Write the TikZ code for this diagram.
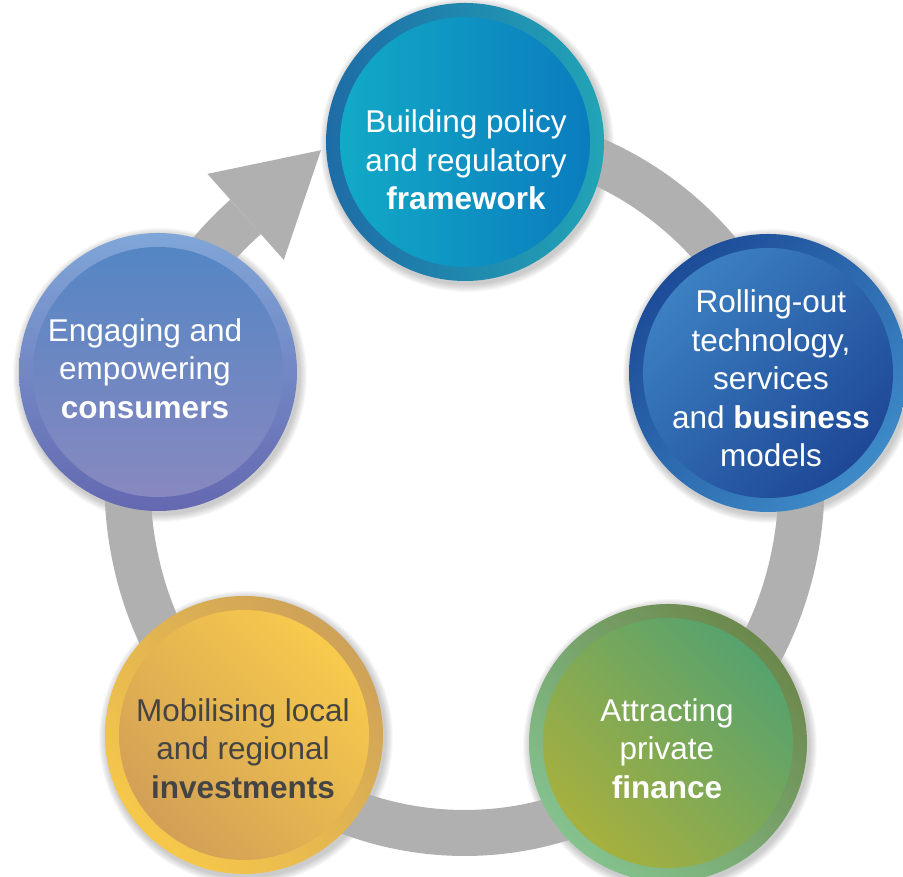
\documentclass[tikz,border=0pt]{standalone}
\usepackage{fontspec}
\setmainfont{Liberation Sans}
\usetikzlibrary{calc}
\definecolor{ringgray}{RGB}{176,176,176}
\definecolor{tA}{RGB}{30,108,166}
\definecolor{tB}{RGB}{34,164,182}
\definecolor{tC}{RGB}{18,170,198}
\definecolor{tD}{RGB}{10,124,190}
\definecolor{rA}{RGB}{29,76,152}
\definecolor{rB}{RGB}{62,138,199}
\definecolor{rC}{RGB}{60,128,194}
\definecolor{rD}{RGB}{30,72,150}
\definecolor{gA}{RGB}{108,136,76}
\definecolor{gB}{RGB}{132,194,142}
\definecolor{gC}{RGB}{86,162,110}
\definecolor{gD}{RGB}{166,176,62}
\definecolor{yA}{RGB}{206,162,88}
\definecolor{yB}{RGB}{246,200,74}
\definecolor{yC}{RGB}{248,202,76}
\definecolor{yD}{RGB}{210,160,86}
\definecolor{lA}{RGB}{128,166,216}
\definecolor{lB}{RGB}{100,104,176}
\definecolor{lC}{RGB}{84,134,196}
\definecolor{lD}{RGB}{136,136,192}
\definecolor{darktext}{RGB}{68,68,68}
\begin{document}
\begin{tikzpicture}[x=1pt,y=1pt,
  ring/.style={line width=46pt, draw=ringgray},
  outerdisc/.style={circle, minimum size=278pt, inner sep=0pt},
  innerdisc/.style={circle, minimum size=250pt, inner sep=0pt},
  caption/.style={align=center, font=\fontsize{31.5}{38.5}\selectfont, text=white},
  softshadow/.style={fill=black, opacity=0.028},
]
\useasboundingbox (0,0) rectangle (903,877);

% centres
\coordinate (ctop) at (465,735);
\coordinate (cright) at (768,504);
\coordinate (cbr) at (668,134);
\coordinate (cbl) at (244,142);
\coordinate (cleft) at (158,505);

% soft shadows
\foreach \c in {ctop,cright,cbr,cbl,cleft}{
  \foreach \i in {1,...,8}{
    \fill[softshadow] ($(\c)+(2,-3)$) circle (139+\i);
  }
}

% ring and arrow
\coordinate (rc) at (464.5,394);
\draw[ring] (rc) ++(130.5:337 and 350) arc[start angle=130.5, end angle=445, x radius=337, y radius=350];
\coordinate (a1) at (207.4,703.1);
\coordinate (a2) at (321.0,726.8);
\coordinate (a3) at (283.8,617.1);
\fill[ringgray] (a1) -- (a2) -- (a3) -- cycle;

% top circle
\node[outerdisc, left color=tA, right color=tB] (otop) at (ctop) {};
\node[innerdisc, left color=tC, right color=tD] (itop) at (ctop) {};
% right circle
\node[outerdisc, top color=rA, bottom color=rB, shading angle=45] (oright) at (cright) {};
\node[innerdisc, top color=rC, bottom color=rD, shading angle=45] (iright) at (cright) {};
% bottom right circle
\node[outerdisc, top color=gA, bottom color=gB, shading angle=-45] (obr) at (cbr) {};
\node[innerdisc, top color=gC, bottom color=gD, shading angle=-45] (ibr) at (cbr) {};
% bottom left circle
\node[outerdisc, top color=yA, bottom color=yB, shading angle=-45] (obl) at (cbl) {};
\node[innerdisc, top color=yC, bottom color=yD, shading angle=-45] (ibl) at (cbl) {};
% left circle
\node[outerdisc, top color=lA, bottom color=lB] (oleft) at (cleft) {};
\node[innerdisc, top color=lC, bottom color=lD] (ileft) at (cleft) {};

% texts
\node[caption] (ttop) at (466,717) {Building policy\\and regulatory\\\textbf{framework}};
\node[caption] (tright) at (771,498.5) {Rolling-out\\technology,\\services\\and \textbf{business}\\models};
\node[caption] (tbr) at (667,128.5) {Attracting\\private\\\textbf{finance}};
\node[caption, text=darktext] (tbl) at (243,128.5) {Mobilising local\\and regional\\\textbf{investments}};
\node[caption] (tleft) at (145,508.5) {Engaging and\\empowering\\\textbf{consumers}};
\end{tikzpicture}
\end{document}
